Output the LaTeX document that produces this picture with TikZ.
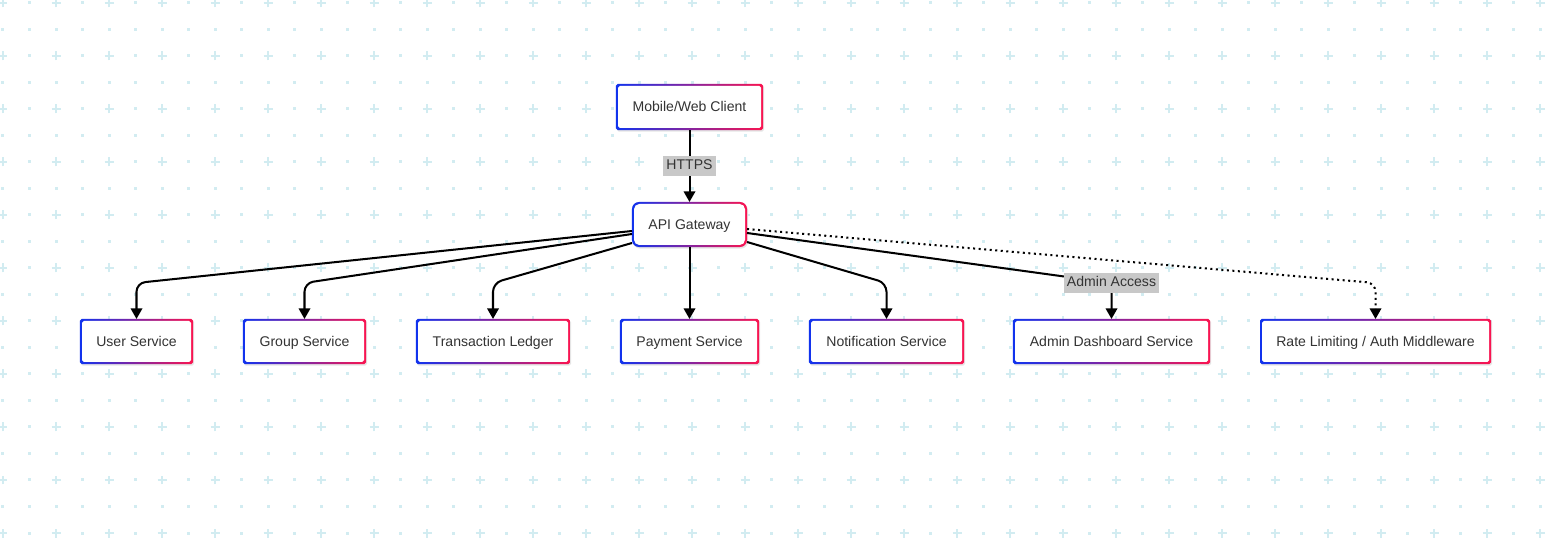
\documentclass[tikz,border=0pt]{standalone}
\usepackage{fontspec}
\setmainfont{Liberation Sans}
\usetikzlibrary{arrows.meta,backgrounds}
\definecolor{gblue}{RGB}{17,51,238}
\definecolor{gred}{RGB}{250,20,80}
\definecolor{gridc}{RGB}{210,236,241}
\definecolor{lblc}{RGB}{200,200,200}
\begin{document}
\begin{tikzpicture}[
  box/.style={rectangle, fill=white, outer sep=1.15pt, inner sep=0pt, minimum height=0.82cm, rounded corners=1pt, text=black!80, text height=6pt, text depth=0.6pt, font=\fontsize{8}{9.6}\selectfont},
  flow/.style={line width=1.15pt, rounded corners=5pt, -{Triangle[length=6pt,width=6.5pt]}},
  lbl/.style={fill=lblc, sharp corners, inner sep=1.8pt, text=black!80, text height=6pt, text depth=1.7pt, font=\fontsize{8}{9.6}\selectfont},
  gdot/.style={fill=gridc},
  gplus/.style={draw=gridc, line width=1.1pt}]
\useasboundingbox (0,0) rectangle (30.9,10.74);
\begin{scope}[on background layer]
\foreach \x in {0.06,1.12,...,30.8}
  \foreach \y in {10.68,9.62,...,0} {
    \path[gplus] (\x-0.09,\y) -- (\x+0.09,\y) (\x,\y-0.09) -- (\x,\y+0.09);
    \path[gdot] (\x+0.5,\y-0.03) rectangle (\x+0.56,\y+0.03);
    \path[gdot] (\x-0.03,\y-0.5) rectangle (\x+0.03,\y-0.56);
    \path[gdot] (\x+0.5,\y-0.5) rectangle (\x+0.56,\y-0.56);
  }
\end{scope}
\node[box, minimum width=2.86cm, minimum height=0.84cm] (client) at (13.79,8.6) {Mobile/Web Client};
\node[box, minimum width=2.22cm, rounded corners=3pt] (gw) at (13.79,6.25) {API Gateway};
\node[box, minimum width=2.18cm] (user) at (2.73,3.91) {User Service};
\node[box, minimum width=2.38cm] (group) at (6.09,3.91) {Group Service};
\node[box, minimum width=3.0cm] (ledger) at (9.86,3.91) {Transaction Ledger};
\node[box, minimum width=2.7cm] (payment) at (13.79,3.91) {Payment Service};
\node[box, minimum width=3.02cm] (notify) at (17.73,3.91) {Notification Service};
\node[box, minimum width=3.86cm] (admin) at (22.23,3.91) {Admin Dashboard Service};
\node[box, minimum width=4.54cm] (rate) at (27.51,3.91) {Rate Limiting / Auth Middleware};
\begin{scope}[on background layer]
\foreach \n/\r in {client/1pt,gw/4pt,user/1pt,group/1pt,ledger/1pt,payment/1pt,notify/1pt,admin/1pt,rate/1pt} {
  \fill[black!10, rounded corners=\r] ([shift={(0.6pt,-0.9pt)}]\n.south west) rectangle ([shift={(0.6pt,-0.9pt)}]\n.north east);
  \shade[left color=gblue, right color=gred, rounded corners=\r] (\n.south west) rectangle (\n.north east);
}
\end{scope}
\coordinate (bend) at (0,5.08);
\draw[flow] (client) -- node[lbl]{HTTPS} (gw);
\draw[flow] ([yshift=-0.13cm]gw.west) -- (user.north |- bend) -- (user);
\draw[flow] ([yshift=-0.19cm]gw.west) -- (group.north |- bend) -- (group);
\draw[flow] ([yshift=-0.37cm]gw.west) -- (ledger.north |- bend) -- (ledger);
\draw[flow] (gw) -- (payment);
\draw[flow] ([yshift=-0.35cm]gw.east) -- (notify.north |- bend) -- (notify);
\draw[flow] ([yshift=-0.17cm]gw.east) -- (admin.north |- bend) node[lbl]{Admin Access} -- (admin);
\draw[flow, dotted] ([yshift=-0.09cm]gw.east) -- (rate.north |- bend) -- (rate);
\end{tikzpicture}
\end{document}
